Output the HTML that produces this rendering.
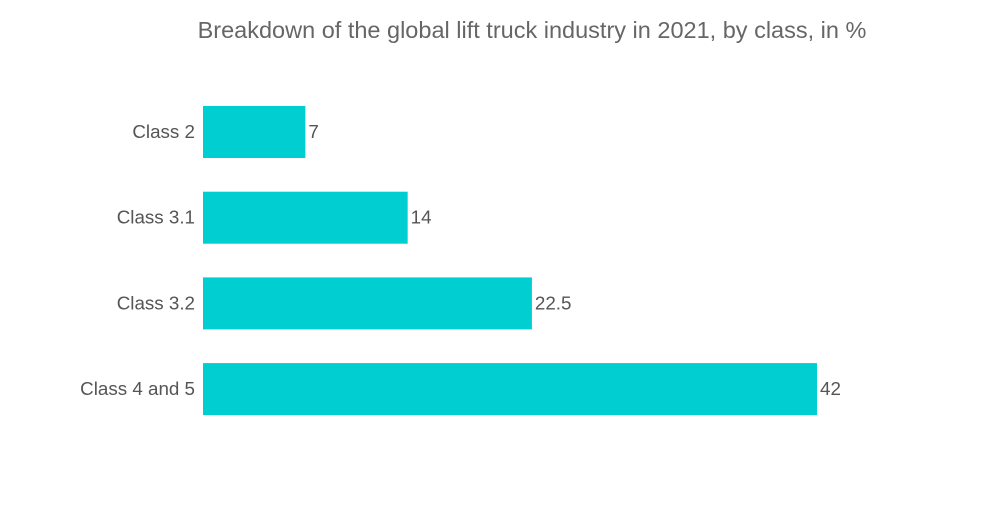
<!DOCTYPE html>
<html><head><meta charset="utf-8"><style>
body{margin:0;background:#fff;width:1000px;height:504px;overflow:hidden;font-family:"Liberation Sans",sans-serif}
</style></head><body>
<svg id="chart" width="1000" height="504">
<text x="532" y="38" text-anchor="middle" font-size="23.5" fill="#666">Breakdown of the global lift truck industry in 2021, by class, in %</text>
<g id="bars"></g>
</svg>
<script>
const categories=["Class 2","Class 3.1","Class 3.2","Class 4 and 5"];
const values=[7,14,22.5,42];
const valueLabels=["7","14","22.5","42"];
const x0=203, scale=614/42, y0=106, step=85.7, bh=52;
const g=document.getElementById('bars');
const ns='http://www.w3.org/2000/svg';
categories.forEach((c,i)=>{
  const y=y0+i*step, w=values[i]*scale;
  const r=document.createElementNS(ns,'rect');
  r.setAttribute('x',x0);r.setAttribute('y',y);r.setAttribute('width',w);r.setAttribute('height',bh);r.setAttribute('fill','#00CED1');
  
  
  g.appendChild(r);
  const l=document.createElementNS(ns,'text');
  l.setAttribute('x',x0-8);l.setAttribute('y',y+bh/2+6);l.setAttribute('text-anchor','end');l.setAttribute('font-size','18.8');l.setAttribute('fill','#555');
  l.textContent=c;
  
  
  g.appendChild(l);
  const v=document.createElementNS(ns,'text');
  v.setAttribute('x',x0+w+3);v.setAttribute('y',y+bh/2+6);v.setAttribute('font-size','18.8');v.setAttribute('fill','#555');
  v.textContent=valueLabels[i];
  
  
  g.appendChild(v);
});
</script>
</body></html>
